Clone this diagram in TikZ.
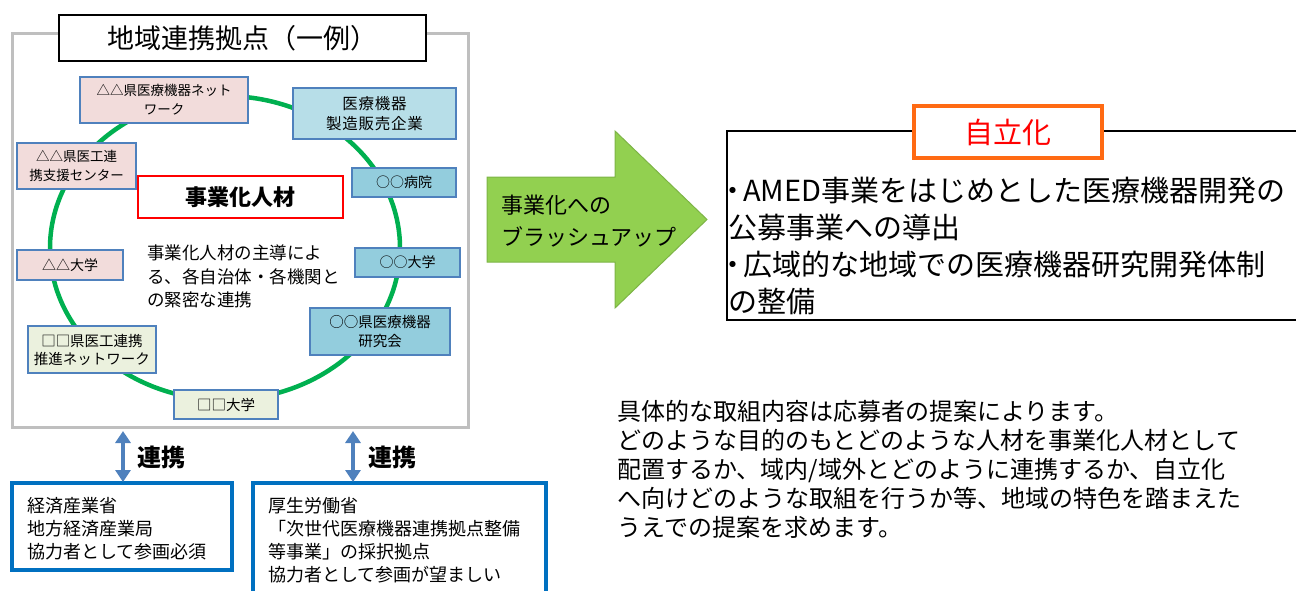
\documentclass[tikz,border=0pt]{standalone}
\usepackage{fontspec}
\setmainfont{Noto Sans CJK JP}
\usetikzlibrary{arrows.meta}
\definecolor{boxblue}{HTML}{4F81BD}
\definecolor{pinkfill}{HTML}{F2DCDB}
\definecolor{paleblue}{HTML}{B7DEE8}
\definecolor{skyblue}{HTML}{93CDDD}
\definecolor{beige}{HTML}{EBF1DE}
\definecolor{ringgreen}{HTML}{00B050}
\definecolor{framegray}{HTML}{BFBFBF}
\definecolor{deepblue}{HTML}{0070C0}
\definecolor{arrowgreen}{HTML}{92D050}
\definecolor{arrowedge}{HTML}{7DB446}
\definecolor{orangeedge}{HTML}{FF6A13}
\newcommand{\bulletdot}{\hspace*{-10pt}・\hspace{-4pt}}
\tikzset{
  member/.style={draw=boxblue, line width=2.4pt, inner sep=0pt, align=center,
    font=\fontsize{13.5}{19}\selectfont},
  pinkbox/.style={member, fill=pinkfill},
  palebox/.style={member, fill=paleblue},
  skybox/.style={member, fill=skyblue},
  beigebox/.style={member, fill=beige},
  plain/.style={inner sep=0pt, align=left},
  linkarrow/.style={draw=boxblue, line width=4pt, {Triangle[width=15pt,length=12pt]}-{Triangle[width=15pt,length=12pt]}},
}
\begin{document}
\begin{tikzpicture}[x=1pt,y=-1pt]
\useasboundingbox (0,0) rectangle (1296,590);
\clip (0,0) rectangle (1296,590);
% outer gray frame
\node[draw=framegray, line width=3pt, minimum width=456pt, minimum height=394pt, inner sep=0pt] (frame) at (240,230) {};
% title
\node[draw=black, fill=white, line width=1.2pt, minimum width=367pt, minimum height=46pt, inner sep=0pt,
  font=\fontsize{27}{30}\selectfont] (title) at (242.5,38) {地域連携拠点（一例）};
% ring
\draw[ringgreen, line width=4.5pt] (225,248) ellipse [x radius=175pt, y radius=152pt];
% member boxes
\node[pinkbox, minimum width=168pt, minimum height=46pt] (n1) at (164,100) {△△県医療機器ネット\\ワーク};
\node[palebox, minimum width=163pt, minimum height=51pt, font=\fontsize{15.5}{20}\selectfont\addfontfeature{LetterSpace=5}] (n2) at (374.5,113.5) {医療機器\\製造販売企業};
\node[pinkbox, minimum width=119pt, minimum height=46pt] (n3) at (76.5,166) {△△県医工連\\携支援センター};
\node[draw=red, fill=white, line width=2.6pt, minimum width=205pt, minimum height=42pt, inner sep=0pt,
  font=\fontsize{22}{26}\selectfont\bfseries] (core) at (240.5,197) {事業化人材};
\node[skybox, minimum width=104pt, minimum height=29pt, font=\fontsize{14}{19}\selectfont] (n5) at (404,182.5) {○○病院};
\node[pinkbox, minimum width=106pt, minimum height=30pt, font=\fontsize{14}{19}\selectfont] (n6) at (70,265) {△△大学};
\node[skybox, minimum width=105pt, minimum height=29pt, font=\fontsize{14}{19}\selectfont] (n7) at (407.5,262.5) {○○大学};
\node[skybox, minimum width=140pt, minimum height=47pt, font=\fontsize{14.5}{19}\selectfont] (n8) at (380,331.5) {○○県医療機器\\研究会};
\node[beigebox, minimum width=128pt, minimum height=47pt, font=\fontsize{14.5}{18}\selectfont] (n9) at (92,349.5) {□□県医工連携\\推進ネットワーク};
\node[beigebox, minimum width=104pt, minimum height=29pt, font=\fontsize{14.5}{19}\selectfont] (n10) at (226,404.5) {□□大学};
% centre text
\node[plain, anchor=north west, font=\fontsize{17.5}{23.5}\selectfont] (lead) at (147,245)
  {事業化人材の主導によ\\る、各自治体・各機関と\\の緊密な連携};
% bottom boxes
\node[draw=deepblue, line width=4pt, minimum width=220pt, minimum height=87pt, inner sep=0pt] (meti) at (122,526.5) {};
\node[plain, anchor=north west, font=\fontsize{18}{23.3}\selectfont] (metitext) at (27,497)
  {経済産業省\\地方経済産業局\\協力者として参画必須};
\node[draw=deepblue, line width=4pt, minimum width=293pt, minimum height=130pt, inner sep=0pt] (mhlw) at (399.5,548) {};
\node[plain, anchor=north west, font=\fontsize{18}{23}\selectfont] (mhlwtext) at (268,497)
  {厚生労働省\\「次世代医療機器連携拠点整備\\等事業」の採択拠点\\協力者として参画が望ましい};
% link arrows
\coordinate (a1) at (123,431);
\coordinate (b1) at (123,482);
\coordinate (a2) at (353,431);
\coordinate (b2) at (353,482);
\draw[linkarrow] (a1) -- (b1);
\draw[linkarrow] (a2) -- (b2);
\node[plain, anchor=west, font=\fontsize{24}{28}\selectfont\bfseries] (link1) at (137,457) {連携};
\node[plain, anchor=west, font=\fontsize{24}{28}\selectfont\bfseries] (link2) at (368,457) {連携};
% big green arrow
\draw[fill=arrowgreen, draw=arrowedge, line width=1pt]
  (487,177) -- (615,177) -- (615,131) -- (707,219.5) -- (615,308) -- (615,262) -- (487,262) -- cycle;
\node[plain, anchor=north west, font=\fontsize{22}{32}\selectfont] (brush) at (501,195)
  {事業化への\\ブラッシュアップ};
% outcome box
\draw[black, line width=1.2pt] (1310,131) -- (727,131) -- (727,320) -- (1310,320);
\node[draw=orangeedge, fill=white, line width=3.5pt, minimum width=188pt, minimum height=52pt, inner sep=0pt,
  text=red, font=\fontsize{29}{32}\selectfont] (selfrel) at (1008,132) {自立化};
\node[plain, anchor=north west, font=\fontsize{29}{37}\selectfont] (outcome) at (728,177)
  {\bulletdot AMED事業をはじめとした医療機器開発の\\公募事業への導出\\\bulletdot 広域的な地域での医療機器研究開発体制\\の整備};
% note text
\node[plain, anchor=north west, font=\fontsize{24}{29}\selectfont] (note) at (617,400)
  {具体的な取組内容は応募者の提案によります。\\どのような目的のもとどのような人材を事業化人材として\\配置するか、域内/域外とどのように連携するか、自立化\\へ向けどのような取組を行うか等、地域の特色を踏まえた\\うえでの提案を求めます。};
\end{tikzpicture}
\end{document}
